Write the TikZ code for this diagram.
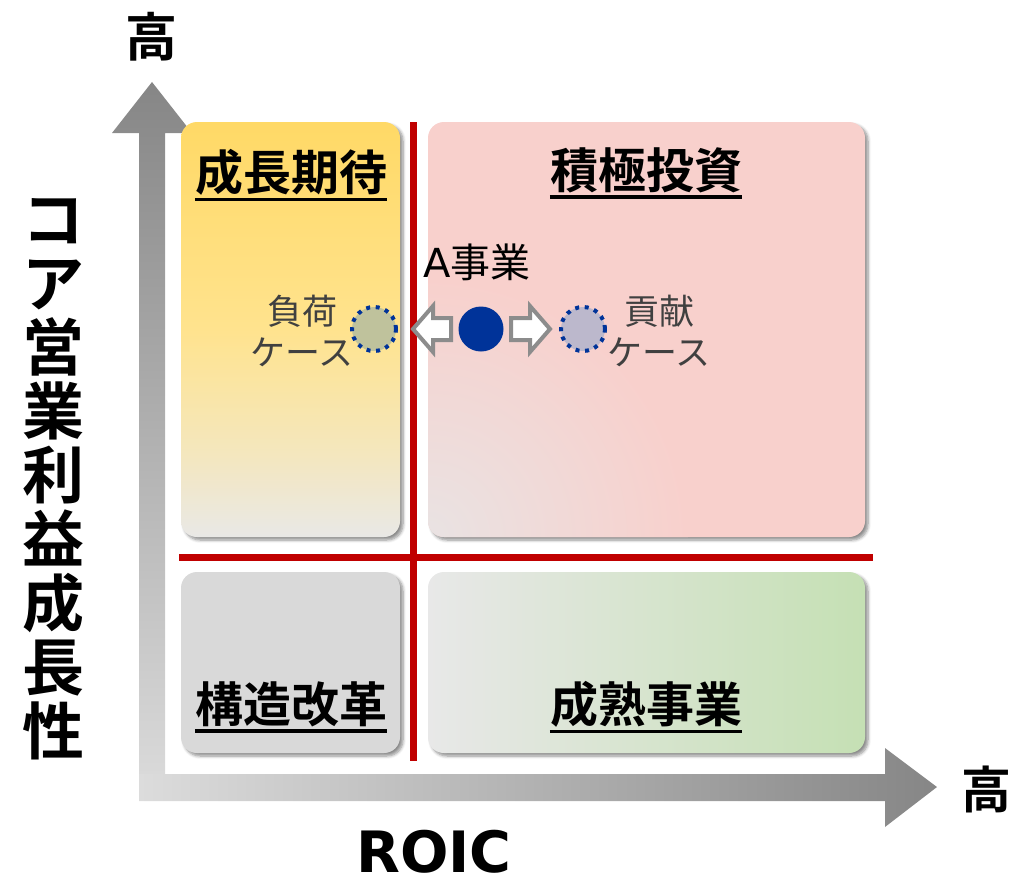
\documentclass[tikz,border=0pt]{standalone}
\usepackage{fontspec}
\setmainfont{Noto Sans CJK JP}[BoldFont={Noto Sans CJK JP Bold}]
\newfontfamily\latfont{DejaVu Sans}[BoldFont={DejaVu Sans Bold}]
\usetikzlibrary{shadows.blur,shadings}
\definecolor{ytop}{HTML}{FFD966}
\definecolor{ymid}{HTML}{FFE38E}
\definecolor{ylow}{HTML}{F4E7BE}
\definecolor{ybot}{HTML}{E9E8E6}
\definecolor{pinkA}{HTML}{F8D0CC}
\definecolor{pinkB}{HTML}{E9E3E3}
\definecolor{grayb}{HTML}{D9D9D9}
\definecolor{greenA}{HTML}{E8E8E8}
\definecolor{greenB}{HTML}{C5E0B4}
\definecolor{axdark}{HTML}{868686}
\definecolor{axlight}{HTML}{DCDCDC}
\definecolor{redl}{HTML}{C00000}
\definecolor{dotblue}{HTML}{003399}
\definecolor{bizblue}{HTML}{003399}
\definecolor{loadfill}{HTML}{BFC29C}
\definecolor{contfill}{HTML}{BCB8CC}
\definecolor{arrowgray}{HTML}{8C8C8C}
\definecolor{casegray}{HTML}{404040}
\pgfdeclareverticalshading{yelshade}{100bp}{color(0bp)=(ybot); color(25bp)=(ybot); color(35bp)=(ylow); color(50bp)=(ymid); color(75bp)=(ytop); color(100bp)=(ytop)}
\begin{document}
\begin{tikzpicture}[x=1pt,y=-1pt,
  box/.style={rounded corners=16pt, blur shadow={shadow xshift=3pt, shadow yshift=-3pt, shadow blur radius=3pt, shadow blur steps=6, shadow opacity=45}},
  heading/.style={font=\bfseries\fontsize{48}{58}\selectfont, inner sep=0pt},
  uline/.style={line width=3.5pt},
  casetext/.style={text=casegray, font=\fontsize{35}{44}\selectfont, inner sep=0pt},
  redline/.style={draw=redl, line width=7pt},
  dotc/.style={circle, minimum size=44pt, inner sep=0pt, draw=dotblue, line width=4pt, dash pattern=on 4pt off 5.6pt},
  blockarrow/.style={draw=arrowgray, fill=white, line width=4pt, line join=miter},
  bigtext/.style={font=\bfseries\fontsize{52}{60}\selectfont, inner sep=0pt}
]
\useasboundingbox (0,0) rectangle (1012,883);

% axes
\shade[top color=axdark, bottom color=axlight] (139,800) -- (139,133) -- (112,133) -- (152,82) -- (192,133) -- (165,133) -- (165,800) -- cycle;
\shade[left color=axlight, right color=axdark] (139,774) -- (885,774) -- (885,748) -- (937,787) -- (885,827) -- (885,801) -- (139,801) -- cycle;

% quadrant boxes
\shade[box, shading=yelshade] (181,122) rectangle (400,537);
\fill[box, fill=pinkA] (428,122) rectangle (865,537);
\begin{scope}
  \clip[rounded corners=16pt] (428,122) rectangle (865,537);
  \shade[inner color=pinkB, outer color=pinkA] (428,537) circle (260);
\end{scope}
\fill[box, fill=grayb] (181,572) rectangle (400,753);
\shade[box, left color=greenA, right color=greenB] (428,572) rectangle (865,753);

% red dividing lines
\coordinate (vt) at (413.5,122);
\coordinate (vb) at (413.5,761);
\coordinate (hl) at (179,557.5);
\coordinate (hr) at (873,557.5);
\draw[redline] (vt) -- (vb);
\draw[redline] (hl) -- (hr);

% headings
\node[heading] (h1) at (291,172) {成長期待};
\node[heading] (h2) at (646,170) {積極投資};
\node[heading] (h3) at (291,704) {構造改革};
\node[heading] (h4) at (646,704) {成熟事業};
\foreach \h in {h1,h2,h3,h4}{
  \draw[uline] ([yshift=-4pt]\h.south west) -- ([yshift=-4pt]\h.south east);
}

% axis labels
\node[bigtext] (hightop) at (151,37) {高};
\node[bigtext, font=\bfseries\fontsize{50}{60}\selectfont] (highright) at (986,789) {高};
\node[inner sep=0pt, align=center, font=\bfseries\fontsize{62}{64}\selectfont] (ylab) at (54,479) {コ\\ア\\営\\業\\利\\益\\成\\長\\性};
\node[inner sep=0pt, font=\latfont\bfseries\fontsize{57}{64}\selectfont] (xlab) at (434,852) {ROIC};

% business A
\node[inner sep=0pt, font=\fontsize{40}{48}\selectfont] (abiz) at (477,262) {{\latfont A}事業};
\node[dotc, fill=loadfill] (load) at (374,329) {};
\node[circle, fill=bizblue, minimum size=45pt, inner sep=0pt] (biz) at (481,329) {};
\node[dotc, fill=contfill] (cont) at (583,329) {};

% block arrows
\draw[blockarrow] (413,329) -- (433,306) -- (433,318) -- (451,318) -- (451,340) -- (433,340) -- (433,352) -- cycle;
\draw[blockarrow] (550,329) -- (530,306) -- (530,318) -- (511,318) -- (511,340) -- (530,340) -- (530,352) -- cycle;

% case labels
\node[casetext, anchor=base] (load1) at (302,324) {負荷};
\node[casetext, anchor=base] (load2) at (302,365) {ケース};
\node[casetext, anchor=base] (cont1) at (659,324) {貢献};
\node[casetext, anchor=base] (cont2) at (659,365) {ケース};
\end{tikzpicture}
\end{document}
